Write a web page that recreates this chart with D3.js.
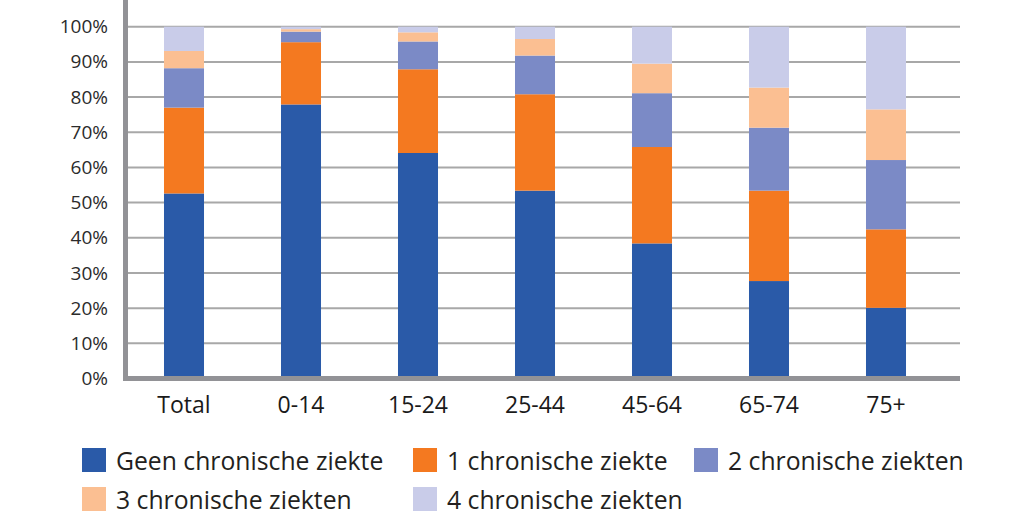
<!DOCTYPE html>
<html>
<head>
<meta charset="utf-8">
<script src="https://cdn.jsdelivr.net/npm/d3@7"></script>
<style>
  html, body { margin: 0; padding: 0; background: #ffffff; }
  svg { display: block; }
</style>
</head>
<body>
<svg id="chart" width="1024" height="530"></svg>
<script>
// ---- data ----
const categories = ["Total", "0-14", "15-24", "25-44", "45-64", "65-74", "75+"];
const seriesNames = ["Geen chronische ziekte", "1 chronische ziekte", "2 chronische ziekten", "3 chronische ziekten", "4 chronische ziekten"];
const geen   = [52.6, 77.9, 64.1, 53.4, 38.4, 27.7, 20.1];
const een    = [24.4, 17.7, 23.8, 27.4, 27.4, 25.7, 22.3];
const twee   = [11.2,  3.0,  7.9, 11.0, 15.3, 17.9, 19.7];
const drie   = [ 4.9,  0.7,  2.6,  4.7,  8.4, 11.4, 14.4];
const vier   = [ 6.9,  0.7,  1.6,  3.5, 10.5, 17.3, 23.5];
const yTicks = [0, 10, 20, 30, 40, 50, 60, 70, 80, 90, 100];
const colors = ["#2a5aa8", "#f47920", "#7b8ac6", "#fbbf92", "#c9cce9"];

// ---- build table ----
const seriesValues = [geen, een, twee, drie, vier];
const keys = seriesNames;
const table = categories.map((c, i) => {
  const row = { cat: c };
  keys.forEach((k, j) => row[k] = seriesValues[j][i]);
  return row;
});
const stacked = d3.stack().keys(keys)(table);

const svg = d3.select("#chart");

const x = d3.scaleBand().domain(categories).range([125.5, 944.5])
  .paddingInner(0.658).paddingOuter(0.329);
const y = d3.scaleLinear().domain([0, 100]).range([378.5, 26.7]);

// gridlines
svg.append("g").selectAll("line").data(yTicks.filter(t => t > 0)).join("line")
  .attr("x1", 128).attr("x2", 960)
  .attr("y1", d => y(d)).attr("y2", d => y(d))
  .attr("stroke", "#a8a8a8").attr("stroke-width", 2);

// bars
svg.append("g").selectAll("g").data(stacked).join("g")
  .attr("fill", (d, i) => colors[i])
  .selectAll("rect").data(d => d).join("rect")
  .attr("x", d => x(d.data.cat))
  .attr("width", x.bandwidth())
  .attr("y", d => y(d[1]))
  .attr("height", d => y(d[0]) - y(d[1]));

// axes lines
svg.append("line").attr("x1", 125.5).attr("x2", 125.5).attr("y1", 0).attr("y2", 381)
  .attr("stroke", "#929296").attr("stroke-width", 5);
svg.append("line").attr("x1", 123).attr("x2", 960).attr("y1", 378.5).attr("y2", 378.5)
  .attr("stroke", "#929296").attr("stroke-width", 5);

// y tick labels
const yAxis = d3.axisLeft(y).tickValues(yTicks).tickFormat(d => d + "%").tickSize(0).tickPadding(0);
const yg = svg.append("g").attr("transform", "translate(108,0)").call(yAxis);
yg.select(".domain").remove();
yg.selectAll("text")
  .attr("font-family", "'Open Sans', sans-serif")
  .attr("font-size", 19)
  .attr("fill", "#2b2b2b");

// x tick labels
const xAxis = d3.axisBottom(x).tickSize(0).tickPadding(0);
const xg = svg.append("g").attr("transform", "translate(0,397)").call(xAxis);
xg.select(".domain").remove();
xg.selectAll("text")
  .attr("font-family", "'Open Sans', sans-serif")
  .attr("font-size", 23)
  .attr("fill", "#1a1a1a");

// legend
const legendPos = [
  { sx: 82, ty: 0 }, { sx: 413, ty: 0 }, { sx: 694, ty: 0 },
  { sx: 82, ty: 1 }, { sx: 413, ty: 1 }
];
const lg = svg.append("g");
seriesNames.forEach((name, i) => {
  const p = legendPos[i];
  const top = 448 + p.ty * 39;
  lg.append("rect").attr("x", p.sx).attr("y", top).attr("width", 24).attr("height", 24)
    .attr("fill", colors[i]);
  const t = lg.append("text").attr("x", p.sx + 34).attr("y", top + 21.5)
    .attr("font-family", "'Open Sans', sans-serif")
    .attr("font-size", 25.5)
    .attr("fill", "#231f20")
    .text(name);
  const w = t.node().getComputedTextLength();
  t.attr("textLength", w * 0.97).attr("lengthAdjust", "spacingAndGlyphs");
});
</script>
</body>
</html>
